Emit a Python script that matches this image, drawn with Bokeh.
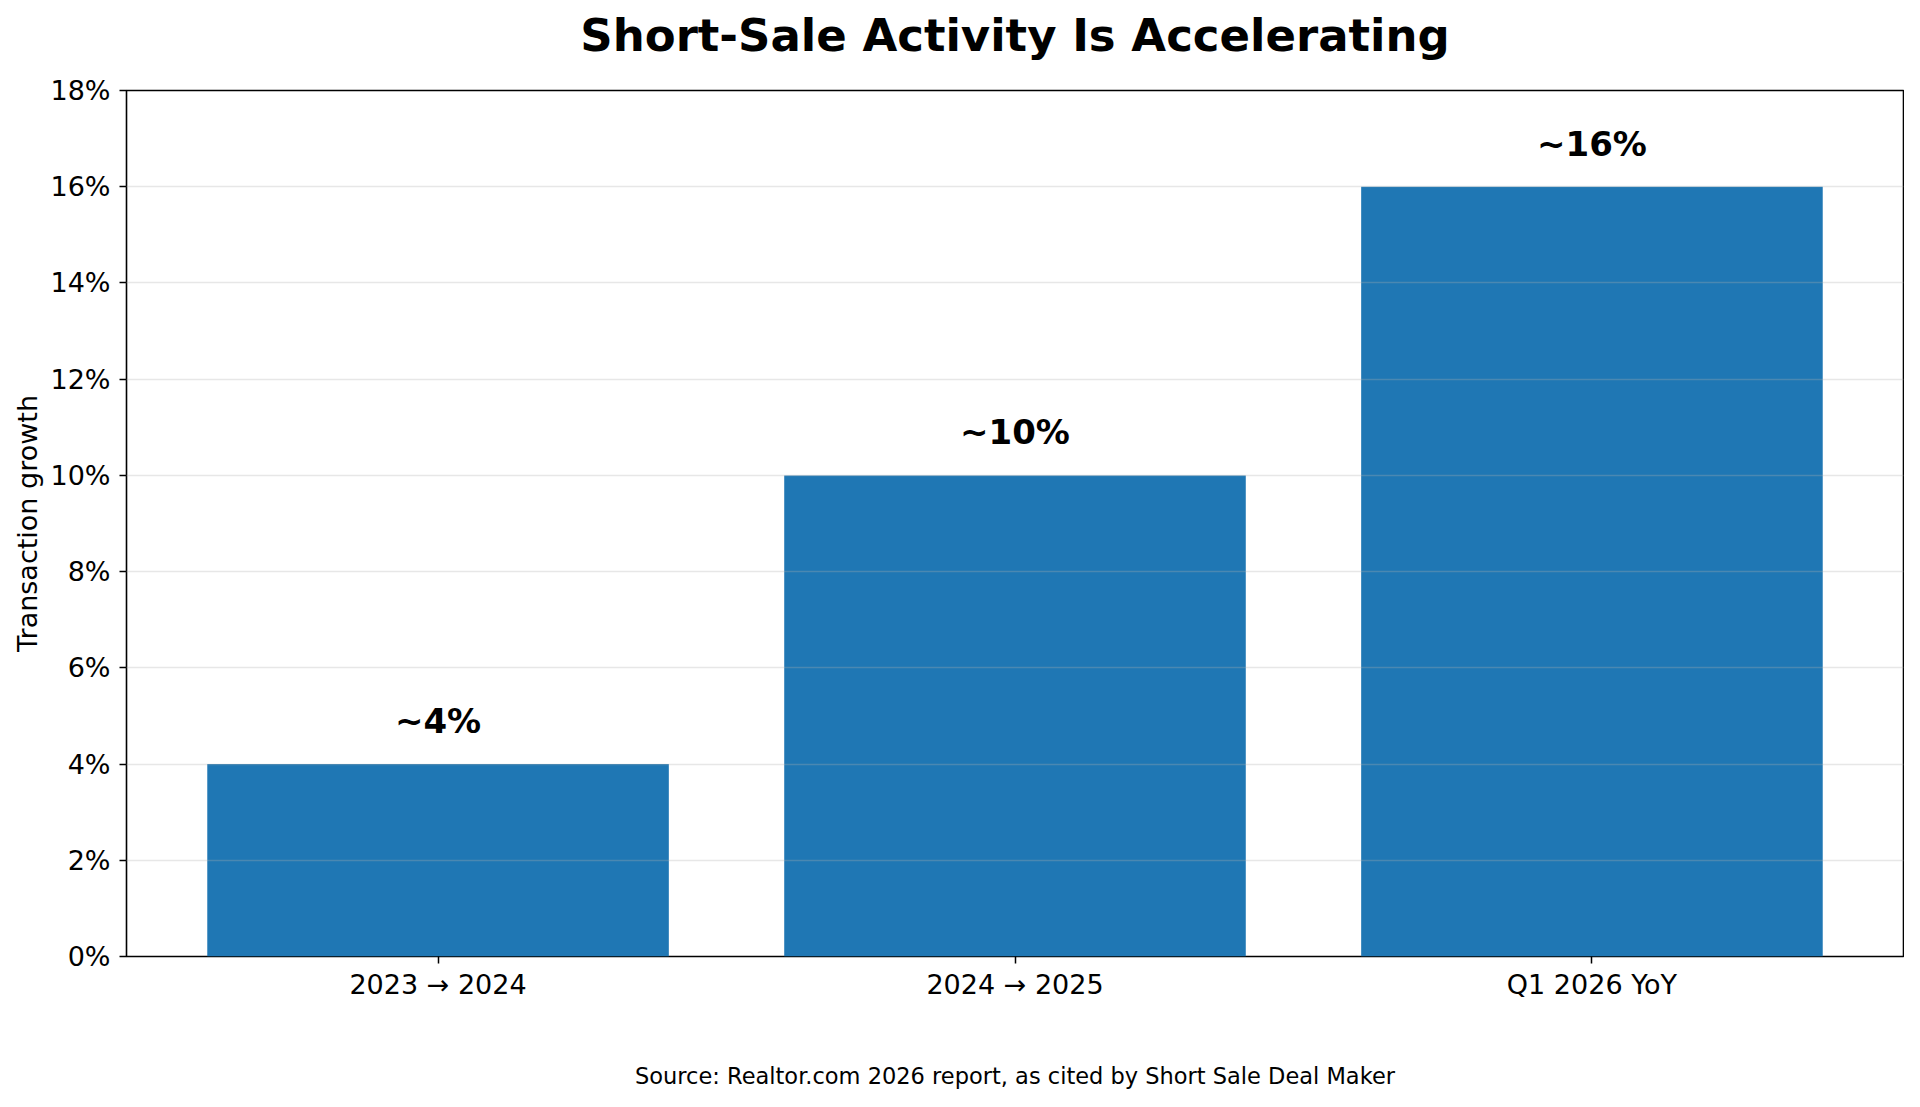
from bokeh.plotting import figure
from bokeh.models import Range1d, FixedTicker, PrintfTickFormatter, Title, ColumnDataSource
from bokeh.core.properties import value
from bokeh.embed import file_html
from bokeh.resources import INLINE

categories = ["2023 \u2192 2024", "2024 \u2192 2025", "Q1 2026 YoY"]
growth_pct = [4, 10, 16]
bar_labels = ["~4%", "~10%", "~16%"]
y_ticks = [0, 2, 4, 6, 8, 10, 12, 14, 16, 18]
title_text = "Short-Sale Activity Is Accelerating"
source_text = "Source: Realtor.com 2026 report, as cited by Short Sale Deal Maker"

FONT = "DejaVu Sans"
BAR_COLOR = "#1f77b4"

xs = list(range(len(categories)))
src = ColumnDataSource(dict(x=xs, top=growth_pct, label=bar_labels))

p = figure(width=1904, height=1091, output_backend="svg", toolbar_location=None, title=None,
           x_range=Range1d(-0.54, len(categories) - 1 + 0.54), y_range=Range1d(0, 18),
           min_border_left=126, min_border_right=1, min_border_top=90, min_border_bottom=135)

p.vbar(x="x", top="top", width=0.8, bottom=0, source=src, fill_color=BAR_COLOR, line_color=None)
p.text(x="x", y="top", text="label", source=src, text_align="center", text_baseline="bottom",
       y_offset=-23, text_font=value(FONT), text_font_size="34px", text_font_style="bold",
       text_color="black")

# axes
p.xaxis.ticker = FixedTicker(ticks=xs)
p.xaxis.major_label_overrides = {i: c for i, c in enumerate(categories)}
p.yaxis.ticker = FixedTicker(ticks=y_ticks)
p.yaxis.formatter = PrintfTickFormatter(format="%d%%")
p.yaxis.axis_label = "Transaction growth"
for ax in (p.xaxis[0], p.yaxis[0]):
    ax.axis_line_color = None
    ax.major_tick_in = 0
    ax.major_tick_out = 7
    ax.major_tick_line_color = "black"
    ax.major_tick_line_width = 1.5
    ax.minor_tick_line_color = None
    ax.major_label_text_font = FONT
    ax.major_label_text_font_size = "27px"
    ax.major_label_text_color = "black"
    ax.axis_label_text_font = FONT
    ax.axis_label_text_font_size = "27px"
    ax.axis_label_text_font_style = "normal"
    ax.axis_label_text_color = "black"
p.yaxis.major_label_standoff = 9
p.yaxis.axis_label_standoff = 4
p.xaxis.major_label_standoff = 5

p.xgrid.grid_line_color = None
p.ygrid.ticker = FixedTicker(ticks=y_ticks)
p.ygrid.grid_line_color = "#b0b0b0"
p.ygrid.grid_line_alpha = 0.3
p.ygrid.grid_line_width = 1.5
p.ygrid.level = "annotation"

p.outline_line_color = "black"
p.outline_line_width = 1.6
p.outline_line_alpha = 1.0
p.background_fill_color = "white"
p.border_fill_color = "white"

# top: spacer next to the frame, then the main title further out
p.add_layout(Title(text=" ", text_font_size="1px", standoff=19), "above")
p.add_layout(Title(text=title_text, align="center", text_font=FONT, text_font_size="45px",
                   text_font_style="bold", text_color="black", standoff=13), "above")

# bottom: spacer after the x axis, then the source note
p.add_layout(Title(text=" ", text_font_size="1px", standoff=55), "below")
p.add_layout(Title(text=source_text, align="center", text_font=FONT, text_font_size="22.5px",
                   text_font_style="normal", text_color="black", standoff=0), "below")

open("out.html", "w").write(file_html(p, INLINE))
